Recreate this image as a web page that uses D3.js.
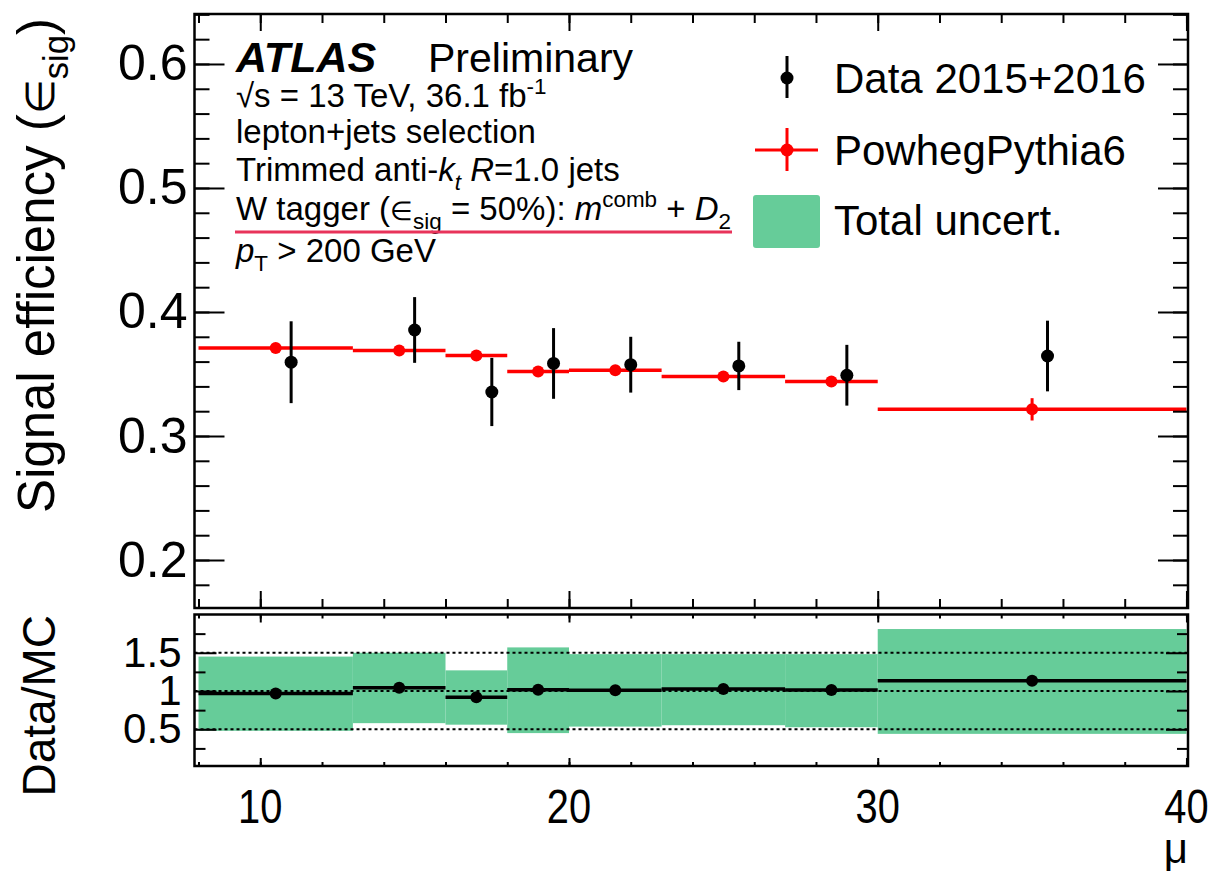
<!DOCTYPE html>
<html>
<head>
<meta charset="utf-8">
<script src="https://cdn.jsdelivr.net/npm/d3@7"></script>
<style>
  body { margin: 0; background: #fff; }
  svg { display: block; font-family: "Liberation Sans", Arial, Helvetica, sans-serif; }
</style>
</head>
<body>
<div id="chart"></div>
<script>
// bins in mu and values
var binEdges = [8, 13, 16, 18, 20, 23, 27, 30, 40];
var mcMu     = [10.5, 14.5, 17, 19, 21.5, 25, 28.5, 35];
var mcEff    = [0.371, 0.369, 0.365, 0.352, 0.353, 0.348, 0.344, 0.3215];
var mcErr    = [0.002, 0.002, 0.002, 0.002, 0.002, 0.002, 0.002, 0.009];
var dataMu   = [11, 15, 17.5, 19.5, 22, 25.5, 29, 35.5];
var dataEff  = [0.3595, 0.3855, 0.3355, 0.3585, 0.3575, 0.3565, 0.349, 0.3645];
var dataErr  = [0.033, 0.0265, 0.0275, 0.0285, 0.0225, 0.0195, 0.0245, 0.0285];
var ratio    = [0.967, 1.043, 0.918, 1.017, 1.011, 1.026, 1.013, 1.134];
var uncLow   = [0.48, 0.58, 0.56, 0.45, 0.535, 0.553, 0.527, 0.44];
var uncHigh  = [1.45, 1.50, 1.27, 1.57, 1.482, 1.482, 1.482, 1.81];

var effTicks   = [0.2, 0.3, 0.4, 0.5, 0.6];
var ratioTicks = [0.5, 1, 1.5];
var muTicks    = [10, 20, 30, 40];

var W = 1211, H = 874;
var GREEN = "#66cc99", RED = "#ff0000";

var svg = d3.select("#chart").append("svg")
	.attr("width", W).attr("height", H);

var x = d3.scaleLinear().domain([7.87, 40.05]).range([194.5, 1188]);
var y = d3.scaleLinear().domain([0.1613, 0.6403]).range([608, 14]);
var yr = d3.scaleLinear().domain([0.02, 2.0]).range([766, 614.5]);

var bins = d3.range(mcMu.length);

// text with italic / sub / sup pieces
function richText(sel, parts, fs) {
	var shift = 0;
	parts.forEach(function(p) {
		var o = p[1] || {};
		var target = o.sub ? 0.28 * fs : (o.sup ? -0.38 * fs : 0);
		var size = (o.sub || o.sup) ? fs * 0.68 : fs * (o.s || 1);
		sel.append("tspan")
			.attr("dy", target - shift)
			.attr("font-size", size)
			.attr("font-style", o.i ? "italic" : "normal")
			.text(p[0]);
		shift = target;
	});
	return sel;
}

function styleTicks(g) {
	g.select(".domain").remove();
	g.selectAll(".tick line").attr("stroke", "#000").attr("stroke-width", 2);
}

// ---------------- upper panel ----------------
var up = svg.append("g");

// MC horizontal bin lines
up.selectAll(".mch").data(bins).enter().append("line")
	.attr("x1", function(i) { return x(binEdges[i]); })
	.attr("x2", function(i) { return x(binEdges[i + 1]); })
	.attr("y1", function(i) { return y(mcEff[i]); })
	.attr("y2", function(i) { return y(mcEff[i]); })
	.attr("stroke", RED).attr("stroke-width", 3.5);

up.selectAll(".mcv").data(bins).enter().append("line")
	.attr("x1", function(i) { return x(mcMu[i]); })
	.attr("x2", function(i) { return x(mcMu[i]); })
	.attr("y1", function(i) { return y(mcEff[i] - mcErr[i]); })
	.attr("y2", function(i) { return y(mcEff[i] + mcErr[i]); })
	.attr("stroke", RED).attr("stroke-width", 3);

up.selectAll(".mcp").data(bins).enter().append("circle")
	.attr("cx", function(i) { return x(mcMu[i]); })
	.attr("cy", function(i) { return y(mcEff[i]); })
	.attr("r", 6).attr("fill", RED);

// data
up.selectAll(".dv").data(bins).enter().append("line")
	.attr("x1", function(i) { return x(dataMu[i]); })
	.attr("x2", function(i) { return x(dataMu[i]); })
	.attr("y1", function(i) { return y(dataEff[i] - dataErr[i]); })
	.attr("y2", function(i) { return y(dataEff[i] + dataErr[i]); })
	.attr("stroke", "#000").attr("stroke-width", 3);

up.selectAll(".dp").data(bins).enter().append("circle")
	.attr("cx", function(i) { return x(dataMu[i]); })
	.attr("cy", function(i) { return y(dataEff[i]); })
	.attr("r", 6.5).attr("fill", "#000");

// axes of the upper panel (ROOT style, ticks inside on all sides)
var effMinor = d3.range(0.18, 0.645, 0.02);
up.append("g").attr("transform", "translate(194.5,0)")
	.call(d3.axisLeft(y).tickValues(effMinor).tickSize(-15).tickFormat(""))
	.call(styleTicks);
up.append("g").attr("transform", "translate(194.5,0)")
	.call(d3.axisLeft(y).tickValues(effTicks).tickSize(-30).tickPadding(7).tickFormat(d3.format(".1f")))
	.call(styleTicks)
	.selectAll("text").attr("font-size", 50).attr("fill", "#000").attr("font-family", "Liberation Sans, Arial, sans-serif");
up.append("g").attr("transform", "translate(1188,0)")
	.call(d3.axisRight(y).tickValues(effMinor).tickSize(-15).tickFormat(""))
	.call(styleTicks);
up.append("g").attr("transform", "translate(1188,0)")
	.call(d3.axisRight(y).tickValues(effTicks).tickSize(-30).tickFormat(""))
	.call(styleTicks);

var muMinor = d3.range(8, 40.1, 2);
[[14, d3.axisTop], [608, d3.axisBottom]].forEach(function(a) {
	up.append("g").attr("transform", "translate(0," + a[0] + ")")
		.call(a[1](x).tickValues(muMinor).tickSize(-9).tickFormat(""))
		.call(styleTicks);
	up.append("g").attr("transform", "translate(0," + a[0] + ")")
		.call(a[1](x).tickValues(muTicks).tickSize(-17).tickFormat(""))
		.call(styleTicks);
});

up.append("rect")
	.attr("x", 194.5).attr("y", 14).attr("width", 1188 - 194.5).attr("height", 608 - 14)
	.attr("fill", "none").attr("stroke", "#000").attr("stroke-width", 2.5);

// y title
var yt = svg.append("text")
	.attr("transform", "translate(54,18) rotate(-90)")
	.attr("text-anchor", "end");
richText(yt, [["Signal efficiency ("], ["\u2208", {s: 0.78}], ["sig", {sub: 1}], [")"]], 51);

// ATLAS label and notes
var ax0 = 236;
svg.append("text").attr("x", ax0).attr("y", 72)
	.attr("font-size", 43).attr("font-weight", "bold").attr("font-style", "italic")
	.text("ATLAS");
svg.append("text").attr("x", 428).attr("y", 72)
	.attr("font-size", 41).text("Preliminary");

var notes = [
	[107, [["\u221as = 13 TeV, 36.1 fb"], ["-1", {sup: 1}]]],
	[143, [["lepton+jets selection"]]],
	[181, [["Trimmed anti-"], ["k", {i: 1}], ["t", {i: 1, sub: 1}], [" "], ["R", {i: 1}], ["=1.0 jets"]]],
	[220, [["W tagger ("], ["\u2208", {s: 0.78}], ["sig", {sub: 1}], [" = 50%): "], ["m", {i: 1}], ["comb", {sup: 1}], [" + "], ["D", {i: 1}], ["2", {sub: 1}]]],
	[262, [["p", {i: 1}], ["T", {sub: 1}], [" > 200 GeV"]]]
];
notes.forEach(function(n) {
	var t = svg.append("text").attr("x", ax0).attr("y", n[0]);
	richText(t, n[1], 33);
});
svg.append("line")
	.attr("x1", 235).attr("x2", 732).attr("y1", 232).attr("y2", 232)
	.attr("stroke", "#e8335a").attr("stroke-width", 3);

// legend
var lg = svg.append("g");
lg.append("line").attr("x1", 787).attr("x2", 787).attr("y1", 56).attr("y2", 98)
	.attr("stroke", "#000").attr("stroke-width", 3);
lg.append("circle").attr("cx", 787).attr("cy", 78).attr("r", 6.5).attr("fill", "#000");
lg.append("text").attr("x", 834).attr("y", 93).attr("font-size", 42).text("Data 2015+2016");

lg.append("line").attr("x1", 755).attr("x2", 818).attr("y1", 150).attr("y2", 150)
	.attr("stroke", RED).attr("stroke-width", 3);
lg.append("line").attr("x1", 787).attr("x2", 787).attr("y1", 128).attr("y2", 171)
	.attr("stroke", RED).attr("stroke-width", 3);
lg.append("circle").attr("cx", 787).attr("cy", 150).attr("r", 6.5).attr("fill", RED);
lg.append("text").attr("x", 834).attr("y", 165).attr("font-size", 42).text("PowhegPythia6");

lg.append("rect").attr("x", 753).attr("y", 195).attr("width", 67).attr("height", 53)
	.attr("rx", 3).attr("fill", GREEN);
lg.append("text").attr("x", 834).attr("y", 235).attr("font-size", 42).text("Total uncert.");

// ---------------- ratio panel ----------------
var lo = svg.append("g");

lo.selectAll(".band").data(bins).enter().append("rect")
	.attr("x", function(i) { return x(binEdges[i]); })
	.attr("width", function(i) { return x(binEdges[i + 1]) - x(binEdges[i]); })
	.attr("y", function(i) { return yr(uncHigh[i]); })
	.attr("height", function(i) { return yr(uncLow[i]) - yr(uncHigh[i]); })
	.attr("fill", GREEN);

lo.selectAll(".ref").data(ratioTicks).enter().append("line")
	.attr("x1", 194.5).attr("x2", 1188)
	.attr("y1", function(d) { return yr(d); }).attr("y2", function(d) { return yr(d); })
	.attr("stroke", "#000").attr("stroke-width", 2).attr("stroke-dasharray", "3,3");

lo.selectAll(".rh").data(bins).enter().append("line")
	.attr("x1", function(i) { return x(binEdges[i]); })
	.attr("x2", function(i) { return x(binEdges[i + 1]); })
	.attr("y1", function(i) { return yr(ratio[i]); })
	.attr("y2", function(i) { return yr(ratio[i]); })
	.attr("stroke", "#000").attr("stroke-width", 3.5);

lo.selectAll(".rp").data(bins).enter().append("circle")
	.attr("cx", function(i) { return x(mcMu[i]); })
	.attr("cy", function(i) { return yr(ratio[i]); })
	.attr("r", 6).attr("fill", "#000");

var ratioMinor = [0.25, 0.75, 1.25, 1.75];
lo.append("g").attr("transform", "translate(194.5,0)")
	.call(d3.axisLeft(yr).tickValues(ratioMinor).tickSize(-11).tickFormat(""))
	.call(styleTicks);
lo.append("g").attr("transform", "translate(194.5,0)")
	.call(d3.axisLeft(yr).tickValues(ratioTicks).tickSize(-22).tickPadding(13).tickFormat(d3.format("")))
	.call(styleTicks)
	.selectAll("text").attr("font-size", 42).attr("fill", "#000").attr("font-family", "Liberation Sans, Arial, sans-serif");
lo.append("g").attr("transform", "translate(1188,0)")
	.call(d3.axisRight(yr).tickValues(ratioMinor).tickSize(-11).tickFormat(""))
	.call(styleTicks);
lo.append("g").attr("transform", "translate(1188,0)")
	.call(d3.axisRight(yr).tickValues(ratioTicks).tickSize(-22).tickFormat(""))
	.call(styleTicks);

[[614.5, d3.axisTop], [766, d3.axisBottom]].forEach(function(a) {
	lo.append("g").attr("transform", "translate(0," + a[0] + ")")
		.call(a[1](x).tickValues(muMinor).tickSize(-4).tickFormat(""))
		.call(styleTicks);
	lo.append("g").attr("transform", "translate(0," + a[0] + ")")
		.call(a[1](x).tickValues(muTicks).tickSize(-8).tickFormat(""))
		.call(styleTicks);
});

lo.append("rect")
	.attr("x", 194.5).attr("y", 614.5).attr("width", 1188 - 194.5).attr("height", 766 - 614.5)
	.attr("fill", "none").attr("stroke", "#000").attr("stroke-width", 2.5);

// x tick labels (narrow, as in the ROOT output)
svg.selectAll(".xl").data(muTicks).enter().append("text")
	.attr("transform", function(d) { return "translate(" + x(d) + ",823) scale(0.83,1)"; })
	.attr("text-anchor", "middle").attr("font-size", 48)
	.text(function(d) { return d; });

svg.append("text").attr("x", 1188).attr("y", 863)
	.attr("text-anchor", "end").attr("font-size", 42).text("\u03bc");

svg.append("text")
	.attr("transform", "translate(55,615) rotate(-90)")
	.attr("text-anchor", "end").attr("font-size", 46)
	.text("Data/MC");
</script>
</body>
</html>
